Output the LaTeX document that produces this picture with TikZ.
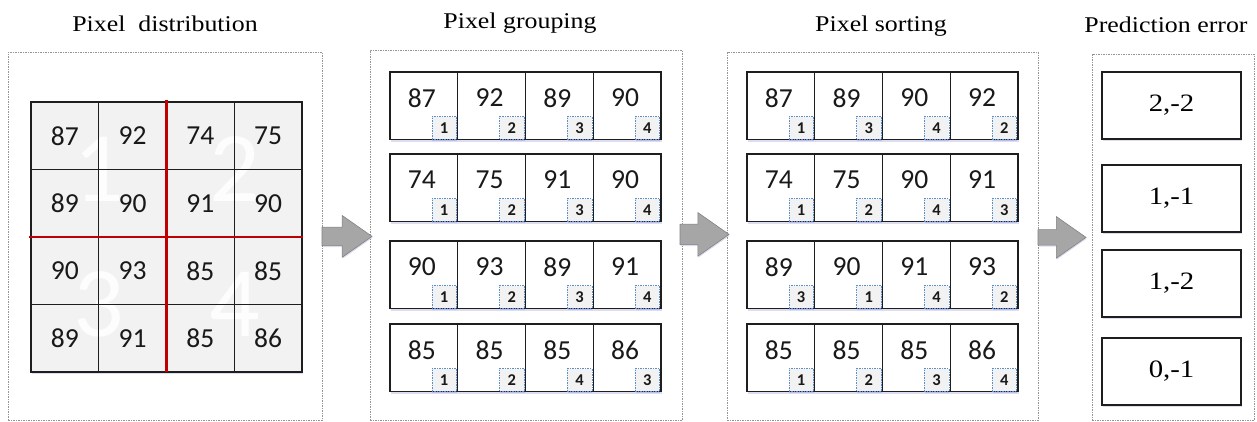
\documentclass[tikz,border=0pt]{standalone}
\usepackage{fontspec}
\setmainfont{Liberation Serif}[FakeStretch=1.15]
\newfontfamily\numfont{Carlito}
\usetikzlibrary{shapes.arrows,shadows,calc}

\definecolor{cellgray}{RGB}{242,242,242}
\definecolor{linedark}{RGB}{30,30,30}
\definecolor{splitred}{RGB}{192,0,0}
\definecolor{tagblue}{RGB}{91,143,200}
\definecolor{framegray}{RGB}{150,150,150}
\definecolor{arrowfill}{RGB}{166,166,166}
\definecolor{arrowedge}{RGB}{130,130,130}

% one row of a pixel block: prefix, left x, top y, row number, value/tag list
\newcommand\pixrow[5]{%
  \foreach \v/\t [count=\c] in {#5} {
    \node[cellbox] (#1#4\c) at ({#2+(\c-1)*67.75},#3) {};
    \node[val] (#1#4\c v) at ([xshift=-2pt,yshift=-26pt]#1#4\c.north) {\v};
    \node[tag] (#1#4\c t) at ([xshift=-1pt]#1#4\c.south east) {\t};
  }}

\begin{document}
\begin{tikzpicture}[x=1pt,y=-1pt,
  panel/.style={draw=framegray, line width=0.7pt, dash pattern=on 1.5pt off 1pt,
    fill=white, anchor=north west, inner sep=0pt},
  title/.style={anchor=base, font=\fontsize{22.5}{26}\selectfont, inner sep=0pt},
  softshadow/.style={drop shadow={shadow xshift=0.5pt, shadow yshift=-2pt,
    opacity=0.18, fill=blue!45!gray}},
  pix/.style={draw=linedark, line width=1.3pt, minimum width=67.75pt,
    minimum height=67.5pt, inner sep=0pt, outer sep=0pt, anchor=north west,
    font=\numfont\fontsize{27.5}{30}\selectfont, text=black!90},
  cellbox/.style={draw=linedark, line width=1.3pt, fill=white, minimum width=67.75pt,
    minimum height=67.5pt, inner sep=0pt, outer sep=0pt, anchor=north west, softshadow},
  val/.style={font=\numfont\fontsize{27.5}{30}\selectfont, text=black!90, inner sep=0pt},
  tag/.style={anchor=south east, draw=tagblue, line width=0.7pt,
    dash pattern=on 1.5pt off 1pt, fill=cellgray, minimum width=24.5pt,
    minimum height=22.5pt, inner sep=0pt, text=black!90,
    font=\numfont\bfseries\fontsize{16.5}{18}\selectfont,
    drop shadow={shadow xshift=0.5pt, shadow yshift=-1.5pt, opacity=0.2, fill=blue!50!gray}},
  blocknum/.style={text=white, opacity=0.85, font=\numfont\fontsize{100}{100}\selectfont, inner sep=0pt},
  errbox/.style={draw=linedark, line width=1.3pt, fill=white, minimum width=139pt,
    minimum height=67pt, inner sep=0pt, font=\fontsize{25}{28}\selectfont, softshadow},
  blockarrow/.style={single arrow, anchor=tail, draw=arrowedge, fill=arrowfill,
    line width=0.6pt, inner xsep=0pt, inner ysep=9pt, minimum width=1pt,
    single arrow head extend=11.5pt, single arrow tip angle=70,
    drop shadow={shadow xshift=0.5pt, shadow yshift=-1.5pt, opacity=0.2, fill=blue!40!gray}},
  split/.style={draw=splitred, line width=2.8pt}
]
\useasboundingbox (0,0) rectangle (1257,421);

% dashed panels
\node[panel, minimum width=314pt, minimum height=368pt] (P1) at (8,52) {};
\node[panel, minimum width=312pt, minimum height=370pt] (P2) at (370,50) {};
\node[panel, minimum width=311pt, minimum height=368pt] (P3) at (727,52) {};
\node[panel, minimum width=162pt, minimum height=366pt] (P4) at (1092,54) {};

% titles
\node[title] (T1) at (165,31) {Pixel~~distribution};
\node[title] (T2) at (520,28) {Pixel grouping};
\node[title] (T3) at (881,31) {Pixel sorting};
\node[title] (T4) at (1166,32) {Prediction error};

% pixel block: backdrop, block numbers, cells
\node[anchor=north west, fill=cellgray, minimum width=271pt, minimum height=270pt,
  inner sep=0pt, softshadow] (G) at (31,102) {};
\node[blocknum] (M1) at (98.5,169) {1};
\node[blocknum] (M2) at (234.5,169) {2};
\node[blocknum] (M3) at (98.5,304) {3};
\node[blocknum] (M4) at (234.5,304) {4};
\foreach \row/\vals [count=\r] in {1/{87,92,74,75},2/{89,90,91,90},3/{90,93,85,85},4/{89,91,85,86}} {
  \foreach \v [count=\c] in \vals {
    \node[pix] (p\r\c) at ({31+(\c-1)*67.75},{102+(\r-1)*67.5}) {\v};
  }
}
\draw[split] ([yshift=2pt]p13.north west) -- (p43.south west);
\draw[split] ([xshift=-2pt]p31.north west) -- ([xshift=1pt]p34.north east);

% grouping
\pixrow{g}{390}{72}{1}{87/1,92/2,89/3,90/4}
\pixrow{g}{390}{154}{2}{74/1,75/2,91/3,90/4}
\pixrow{g}{390}{241}{3}{90/1,93/2,89/3,91/4}
\pixrow{g}{390}{324}{4}{85/1,85/2,85/4,86/3}

% sorting
\pixrow{s}{747}{72}{1}{87/1,89/3,90/4,92/2}
\pixrow{s}{747}{154}{2}{74/1,75/2,90/4,91/3}
\pixrow{s}{747}{241}{3}{89/3,90/1,91/4,93/2}
\pixrow{s}{747}{324}{4}{85/1,85/2,85/3,86/4}

% prediction errors
\node[errbox] (e1) at (1171.5,105.5) {2,-2};
\node[errbox] (e2) at (1171.5,198.5) {1,-1};
\node[errbox] (e3) at (1171.5,283.5) {1,-2};
\node[errbox] (e4) at (1171.5,371.5) {0,-1};

% block arrows between stages
\node[blockarrow, minimum height=50pt] (A1) at ([xshift=-1pt]P1.east) {};
\node[blockarrow, minimum height=49pt, inner ysep=10pt] (A2) at ([xshift=-3pt,yshift=1pt]P2.east) {};
\node[blockarrow, minimum height=48pt, inner ysep=7.5pt, single arrow head extend=13pt] (A3) at ([xshift=-1pt,yshift=-1pt]P3.east) {};
\end{tikzpicture}
\end{document}
